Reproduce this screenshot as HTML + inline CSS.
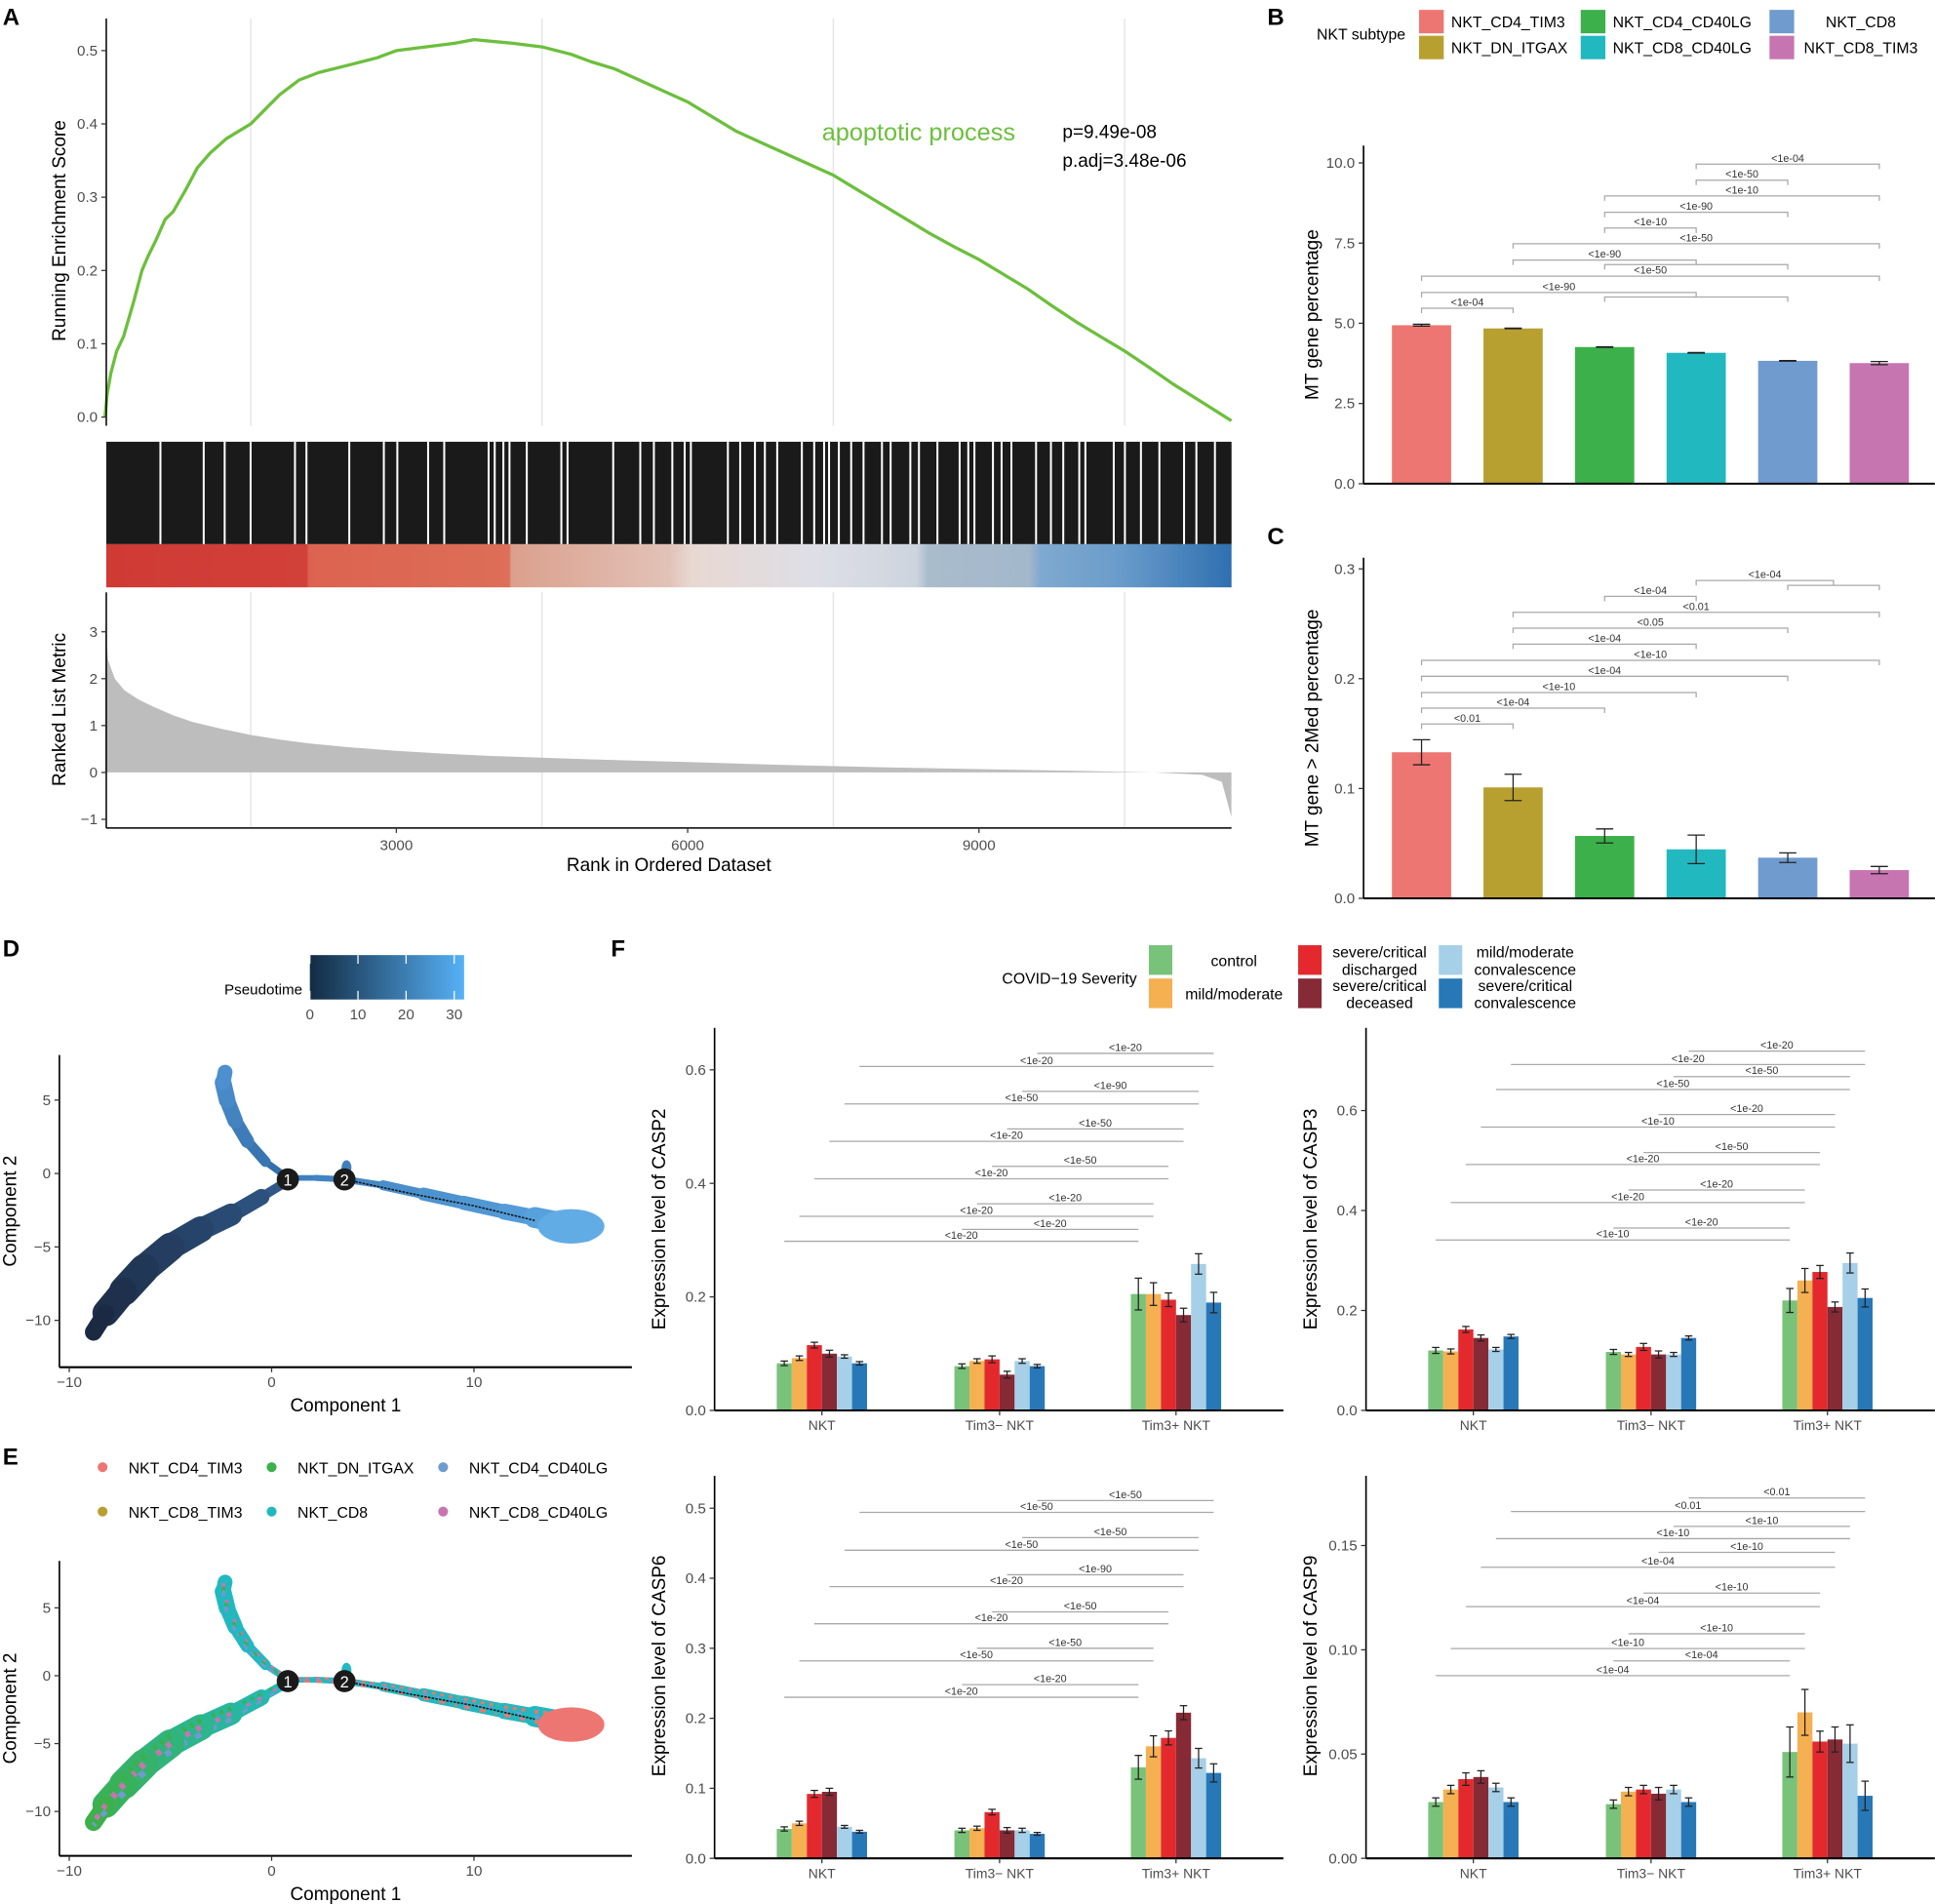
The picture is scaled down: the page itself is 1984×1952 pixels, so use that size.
<!DOCTYPE html>
<html><head><meta charset="utf-8"><style>
html,body{margin:0;padding:0;background:#fff;}
svg{display:block;font-family:"Liberation Sans",sans-serif;}
</style></head><body>
<svg id="fig" width="1984" height="1952" viewBox="0 0 1568 1543" xmlns="http://www.w3.org/2000/svg">
<defs>
<linearGradient id="rankband" x1="0" x2="1" y1="0" y2="0">
<stop offset="0" stop-color="#cf3a35"/><stop offset="0.178" stop-color="#d2403a"/>
<stop offset="0.18" stop-color="#dc6350"/><stop offset="0.358" stop-color="#dd6e58"/>
<stop offset="0.36" stop-color="#dba08d"/><stop offset="0.5" stop-color="#e2c2b7"/>
<stop offset="0.52" stop-color="#e8d8d2"/><stop offset="0.63" stop-color="#dedfe6"/>
<stop offset="0.72" stop-color="#cdd4de"/><stop offset="0.73" stop-color="#a9bccc"/>
<stop offset="0.82" stop-color="#a3b8cb"/><stop offset="0.83" stop-color="#7fa9cf"/>
<stop offset="0.9" stop-color="#6a9ccb"/><stop offset="1" stop-color="#2f70b0"/>
</linearGradient>
<linearGradient id="ptgrad" x1="0" x2="1" y1="0" y2="0">
<stop offset="0" stop-color="#132B43"/><stop offset="1" stop-color="#56B1F7"/>
</linearGradient>
</defs>
</svg>
<script>
// ---------- DATA ----------
const esRanks=[0,20,60,120,190,300,380,445,520,620,700,830,950,1080,1250,1500,1650,1800,2000,2200,2500,2800,3000,3300,3600,3800,4200,4500,4800,5000,5250,5500,5750,6000,6250,6500,6750,7000,7250,7500,7750,8000,8250,8500,8750,9000,9250,9500,9750,10000,10250,10500,10750,11000,11300,11600];
const esValues=[0,0.03,0.06,0.09,0.11,0.16,0.2,0.22,0.24,0.27,0.28,0.31,0.34,0.36,0.38,0.40,0.42,0.44,0.46,0.47,0.48,0.49,0.50,0.505,0.51,0.515,0.51,0.505,0.495,0.485,0.475,0.46,0.445,0.43,0.41,0.39,0.375,0.36,0.345,0.33,0.31,0.29,0.27,0.25,0.232,0.215,0.195,0.175,0.152,0.13,0.11,0.09,0.068,0.045,0.02,-0.005];
const metricRanks=[0,30,100,200,350,500,700,900,1200,1500,1800,2100,2500,3000,3500,4000,5000,6000,7000,8000,9000,10000,10800,11300,11500,11600];
const metricValues=[3.2,2.4,2.0,1.75,1.55,1.4,1.22,1.08,0.93,0.8,0.7,0.62,0.54,0.46,0.4,0.35,0.28,0.22,0.16,0.11,0.07,0.035,0.0,-0.05,-0.2,-0.95];
const gapRanks=[570,1016,1232,1499,1956,2074,2515,2871,3010,3327,3493,3950,4013,4102,4165,4343,4699,4763,5233,5512,5652,5842,5969,6033,6414,6541,6693,6795,6922,7176,7303,7405,7456,7557,7684,7811,8001,8090,8293,8382,8572,8801,8890,8953,9144,9233,9334,9588,9741,9868,10033,10096,10388,10503,10668,10858,11112,11239,11430];
const esTicks=[0,0.1,0.2,0.3,0.4,0.5];
const metricTicks=[-1,0,1,2,3];
const rankTicks=[3000,6000,9000];
const gridRanks=[1500,4500,7500,10500];

const subtypes=["NKT_CD4_TIM3","NKT_DN_ITGAX","NKT_CD4_CD40LG","NKT_CD8_CD40LG","NKT_CD8","NKT_CD8_TIM3"];
const subColors=["#ee7672","#b8a030","#3cb04a","#22b8bf","#6f9bcf","#c775b0"];
const bValues=[4.94,4.84,4.26,4.08,3.83,3.76];
const bErrors=[0.03,0.01,0.01,0.01,0.01,0.05];
const bTicks=[0,2.5,5,7.5,10];
const bTickLabels=["0.0","2.5","5.0","7.5","10.0"];
const bBrFrom=[4,4,3,3,3,2,2,3,1,1,3,1];
const bBrTo=[6,5,6,5,4,6,4,5,6,4,5,2];
const bBrY=[9.96,9.46,8.97,8.46,7.97,7.48,6.97,6.83,6.47,5.96,5.82,5.47];
const bBrLab=["<1e-04","<1e-50","<1e-10","<1e-90","<1e-10","<1e-50","<1e-90","","<1e-50","<1e-90","","<1e-04"];

const cValues=[0.133,0.101,0.0568,0.0446,0.037,0.0257];
const cErrors=[0.0114,0.012,0.0064,0.013,0.0044,0.0033];
const cTicks=[0,0.1,0.2,0.3];
const cTickLabels=["0.0","0.1","0.2","0.3"];
const cBrFrom=[4,5,3,2,2,2,1,1,1,1,1];
const cBrTo=[5.5,6,4,6,5,4,6,5,4,3,2];
const cBrY=[0.2894,0.285,0.275,0.2604,0.246,0.2315,0.2167,0.2022,0.1874,0.1732,0.1587];
const cBrLab=["<1e-04","","<1e-04","<0.01","<0.05","<1e-04","<1e-10","<1e-04","<1e-10","<1e-04","<0.01"];

const groups=["NKT","Tim3\u2212 NKT","Tim3+ NKT"];
const sevColors=["#78c279","#f5b052","#e3292e","#862a36","#a6cfe8","#2878b8"];
const casp2Values=[[0.083,0.092,0.115,0.1,0.095,0.083],[0.078,0.087,0.09,0.063,0.087,0.078],[0.205,0.205,0.195,0.168,0.258,0.19]];
const casp2Errors=[[0.004,0.004,0.005,0.006,0.003,0.003],[0.004,0.004,0.006,0.006,0.004,0.003],[0.028,0.02,0.012,0.012,0.018,0.018]];
const casp2BrY=[0.298,0.319,0.342,0.364,0.408,0.430,0.474,0.496,0.540,0.562,0.606,0.629];
const casp2BrLab=["<1e-20","<1e-20","<1e-20","<1e-20","<1e-20","<1e-50","<1e-20","<1e-50","<1e-50","<1e-90","<1e-20","<1e-20"];
const casp3Values=[[0.12,0.118,0.162,0.145,0.122,0.148],[0.117,0.112,0.127,0.112,0.112,0.145],[0.22,0.26,0.277,0.207,0.295,0.225]];
const casp3Errors=[[0.006,0.005,0.006,0.006,0.004,0.004],[0.005,0.004,0.007,0.007,0.004,0.004],[0.024,0.024,0.013,0.01,0.02,0.018]];
const casp3BrY=[0.341,0.365,0.416,0.441,0.492,0.516,0.567,0.592,0.642,0.668,0.692,0.719];
const casp3BrLab=["<1e-10","<1e-20","<1e-20","<1e-20","<1e-20","<1e-50","<1e-10","<1e-20","<1e-50","<1e-50","<1e-20","<1e-20"];
const casp6Values=[[0.042,0.05,0.092,0.095,0.045,0.038],[0.04,0.043,0.066,0.04,0.04,0.035],[0.13,0.16,0.172,0.208,0.143,0.122]];
const casp6Errors=[[0.003,0.003,0.005,0.005,0.002,0.002],[0.003,0.003,0.004,0.004,0.003,0.002],[0.017,0.015,0.01,0.01,0.014,0.013]];
const casp6BrY=[0.23,0.248,0.282,0.30,0.335,0.352,0.388,0.405,0.44,0.458,0.494,0.511];
const casp6BrLab=["<1e-20","<1e-20","<1e-50","<1e-50","<1e-20","<1e-50","<1e-20","<1e-90","<1e-50","<1e-50","<1e-50","<1e-50"];
const casp9Values=[[0.027,0.033,0.038,0.039,0.034,0.027],[0.026,0.032,0.033,0.031,0.033,0.027],[0.051,0.07,0.056,0.057,0.055,0.03]];
const casp9Errors=[[0.002,0.002,0.003,0.003,0.002,0.002],[0.002,0.002,0.002,0.003,0.002,0.002],[0.012,0.011,0.005,0.006,0.009,0.007]];
const casp9BrY=[0.0876,0.0947,0.1006,0.1077,0.1207,0.1272,0.1396,0.1467,0.1533,0.1592,0.1663,0.1728];
const casp9BrLab=["<1e-04","<1e-04","<1e-10","<1e-10","<1e-04","<1e-10","<1e-04","<1e-10","<1e-10","<1e-10","<0.01","<0.01"];

const branchTop=[[0.8,-0.3,4],[-0.3,0.8,7],[-1.2,2.2,10],[-1.8,3.6,12],[-2.2,5.0,13],[-2.4,6.2,14],[-2.3,6.9,10]];
const branchLow=[[0.8,-0.5,5],[-0.5,-1.6,10],[-2,-2.8,16],[-3.5,-3.8,20],[-5,-5.0,22],[-6.3,-6.5,24],[-7.3,-8,24],[-8.2,-9.5,19],[-8.8,-10.8,9]];
const branchRight=[[0.8,-0.3,4],[2.2,-0.3,5],[3.6,-0.4,5],[5.5,-0.8,6],[7.5,-1.4,10],[9.5,-2.0,11],[11.5,-2.6,12],[13,-3.0,14],[14.5,-3.4,20],[15.5,-3.9,16]];
const trajLine=[[3.6,-0.4],[7,-1.4],[10,-2.2],[13,-3.2]];
const compTicksX=[-10,0,10];
const compTicksY=[-10,-5,0,5];
const pseudoTicks=[0,10,20,30];

// ---------- HELPERS ----------
const NS="http://www.w3.org/2000/svg";
const svg=document.getElementById('fig');
function mk(tag,attrs,parent,txt){const e=document.createElementNS(NS,tag);for(const k in attrs)e.setAttribute(k,attrs[k]);if(txt!==undefined)e.textContent=txt;(parent||svg).appendChild(e);return e;}
function grp(name){const g=mk('g',{});return g;}
function txt(g,x,y,s,size,anchor,fill,extra){const t=mk('text',Object.assign({x:x,y:y,'font-size':size,'text-anchor':anchor||'start',fill:fill||'#000'},extra||{}),g,s);return t;}
function line(g,x1,y1,x2,y2,st,w){return mk('line',{x1:x1,y1:y1,x2:x2,y2:y2,stroke:st||'#000','stroke-width':w||1},g);}
function vtitle(g,x,y,s,size){return txt(g,x,y,s,size||15,'middle','#000',{transform:'rotate(-90 '+x+' '+y+')'});}
function lerpCol(a,b,t){const pa=[1,3,5].map(i=>parseInt(a.substr(i,2),16)),pb=[1,3,5].map(i=>parseInt(b.substr(i,2),16));return 'rgb('+pa.map((v,i)=>Math.round(v+(pb[i]-v)*t)).join(',')+')';}

// ---------- PANEL A ----------
(function(){
const g=grp('panel-a-gsea');
txt(g,2,20,'A',19,'start','#000',{'font-weight':'bold'});
const X=r=>85+r*0.0787, YE=v=>338-v*594, YM=v=>626-v*38;
gridRanks.forEach(r=>{line(g,X(r),15,X(r),345,'#e6e6e6',1.2);line(g,X(r),480,X(r),671,'#e6e6e6',1.2);});
let d=esRanks.map((r,i)=>(i?'L':'M')+X(r).toFixed(1)+','+YE(esValues[i]).toFixed(1)).join(' ');
const p=mk('path',{d:d,fill:'none',stroke:'#6cbf3c','stroke-width':2.6,'stroke-linejoin':'round'},g);

line(g,86,15,86,345,'#000',1.2);
esTicks.forEach(v=>{line(g,82,YE(v),86,YE(v),'#333',1);txt(g,79,YE(v)+4,v.toFixed(1),12,'end','#4d4d4d');});
vtitle(g,53,187,'Running Enrichment Score',15);
txt(g,666,114,'apoptotic process',20,'start','#6cbf3c');
txt(g,861,112,'p=9.49e-08',15);txt(g,861,135,'p.adj=3.48e-06',15);
const bc=mk('rect',{x:86,y:358,width:912,height:83,fill:'#1a1a1a'},g);

gapRanks.forEach(r=>{line(g,X(r),358,X(r),441,'#fff',1.6);});
const band=mk('rect',{x:86,y:441,width:912,height:35,fill:'url(#rankband)'},g);

let dm='M'+X(0)+','+YM(0)+' '+metricRanks.map((r,i)=>'L'+X(r).toFixed(1)+','+YM(metricValues[i]).toFixed(1)).join(' ')+' L'+X(11600)+','+YM(0)+' Z';
const pm=mk('path',{d:dm,fill:'#bdbdbd',stroke:'none'},g);

line(g,86,480,86,671,'#000',1.2);line(g,86,671,998,671,'#000',1.2);
metricTicks.forEach(v=>{line(g,82,YM(v),86,YM(v),'#333',1);txt(g,79,YM(v)+4,v<0?'\u22121':String(v),12,'end','#4d4d4d');});
rankTicks.forEach(r=>{line(g,X(r),671,X(r),675,'#333',1);txt(g,X(r),689,String(r),12,'middle','#4d4d4d');});
vtitle(g,53,575,'Ranked List Metric',15);
txt(g,542,706,'Rank in Ordered Dataset',15,'middle');
})();

// ---------- BAR PANELS B & C ----------
function subtypeBars(name,base,scale,top,vals,errs,ticks,tlabs,bf,bt,by,bl,title,titleY,tickH){
const g=grp(name);
const cx=i=>1152+(i-1)*74.2;
vals.forEach((v,i)=>{const r=mk('rect',{x:cx(i+1)-24,y:base-v*scale,width:48,height:v*scale,fill:subColors[i]},g);

const e=errs[i];line(g,cx(i+1),base-(v+e)*scale,cx(i+1),base-(v-e)*scale,'#222',1);
line(g,cx(i+1)-7,base-(v+e)*scale,cx(i+1)+7,base-(v+e)*scale,'#222',1);line(g,cx(i+1)-7,base-(v-e)*scale,cx(i+1)+7,base-(v-e)*scale,'#222',1);});
by.forEach((y,k)=>{const yy=base-y*scale;const x1=cx(bf[k]),x2=cx(bt[k]);
const pth=mk('path',{d:'M'+x1+','+(yy+tickH)+' L'+x1+','+yy+' L'+x2+','+yy+' L'+x2+','+(yy+tickH),fill:'none',stroke:'#a8a8a8','stroke-width':1},g);

if(bl[k])txt(g,(x1+x2)/2,yy-2,bl[k],8.5,'middle','#333');});
line(g,1105,top,1105,base,'#000',1.3);line(g,1105,base,1568,base,'#000',1.6);
ticks.forEach((v,i)=>{line(g,1101,base-v*scale,1105,base-v*scale,'#333',1);txt(g,1098,base-v*scale+4,tlabs[i],12,'end','#4d4d4d');});
vtitle(g,1068,titleY,title,15);
return g;}
const gB=subtypeBars('panel-b-mt-percentage',392,26,118,bValues,bErrors,bTicks,bTickLabels,bBrFrom,bBrTo,bBrY,bBrLab,'MT gene percentage',255,4);
txt(gB,1027,20,'B',19,'start','#000',{'font-weight':'bold'});
const gC=subtypeBars('panel-c-mt-2med',728,890,452,cValues,cErrors,cTicks,cTickLabels,cBrFrom,cBrTo,cBrY,cBrLab,'MT gene > 2Med percentage',590,4);
txt(gC,1027,441,'C',19,'start','#000',{'font-weight':'bold'});
(function(){const g=grp('legend-nkt-subtype');
txt(g,1067,32,'NKT subtype',12.5);
const pos=[[1150,8],[1150,29],[1281,8],[1281,29],[1434,8],[1434,29]];
const tx=[[1176,'start'],[1176,'start'],[1307,'start'],[1307,'start'],[1508,'middle'],[1508,'middle']];
subtypes.forEach((s,i)=>{const r=mk('rect',{x:pos[i][0],y:pos[i][1],width:20,height:19,fill:subColors[i]},g);

txt(g,tx[i][0],pos[i][1]+14,s,12.5,tx[i][1]);});
})();

// ---------- PANEL F ----------
function caspPanel(name,ox,base,scale,top,vals,errs,ticks,tlabs,brY,brLab,title,titleY){
const g=grp(name);
const gc=[666,810,953].map(v=>v+ox);
const bx=(gi,j)=>gc[gi]+(j-2.5)*12.2;
vals.forEach((gv,gi)=>gv.forEach((v,j)=>{const r=mk('rect',{x:bx(gi,j)-6.1,y:base-v*scale,width:12.2,height:v*scale,fill:sevColors[j]},g);

const e=errs[gi][j],xc=bx(gi,j);line(g,xc,base-(v+e)*scale,xc,base-(v-e)*scale,'#222',1);
line(g,xc-3,base-(v+e)*scale,xc+3,base-(v+e)*scale,'#222',1);line(g,xc-3,base-(v-e)*scale,xc+3,base-(v-e)*scale,'#222',1);}));
brY.forEach((y,k)=>{const kk=Math.floor(k/2);const isShort=k%2===1;
const x1=bx(isShort?1:0,kk),x2=bx(2,kk),yy=base-y*scale;
const l=line(g,x1,yy,x2,yy,'#a8a8a8',1);
txt(g,(x1+x2)/2,yy-2,brLab[k],8.5,'middle','#333');});
line(g,ox+579,top,ox+579,base,'#000',1.3);line(g,ox+579,base,ox+1040,base,'#000',1.6);
ticks.forEach((v,i)=>{line(g,ox+575,base-v*scale,ox+579,base-v*scale,'#333',1);txt(g,ox+572,base-v*scale+4,tlabs[i],12,'end','#4d4d4d');});
groups.forEach((s,i)=>{line(g,gc[i],base,gc[i],base+4,'#333',1);txt(g,gc[i],base+16,s,11,'middle','#4d4d4d');});
vtitle(g,ox+539,titleY,title,15);
return g;}
const gF2=caspPanel('panel-f-casp2',0,1143,460,833,casp2Values,casp2Errors,[0,0.2,0.4,0.6],["0.0","0.2","0.4","0.6"],casp2BrY,casp2BrLab,'Expression level of CASP2',988);
const gF3=caspPanel('panel-f-casp3',528,1143,405,833,casp3Values,casp3Errors,[0,0.2,0.4,0.6],["0.0","0.2","0.4","0.6"],casp3BrY,casp3BrLab,'Expression level of CASP3',988);
const gF6=caspPanel('panel-f-casp6',0,1506,567.5,1196,casp6Values,casp6Errors,[0,0.1,0.2,0.3,0.4,0.5],["0.0","0.1","0.2","0.3","0.4","0.5"],casp6BrY,casp6BrLab,'Expression level of CASP6',1350);
const gF9=caspPanel('panel-f-casp9',528,1506,1690,1196,casp9Values,casp9Errors,[0,0.05,0.1,0.15],["0.00","0.05","0.10","0.15"],casp9BrY,casp9BrLab,'Expression level of CASP9',1350);
txt(gF2,495,775,'F',19,'start','#000',{'font-weight':'bold'});
(function(){const g=grp('legend-covid-severity');
txt(g,812,797,'COVID\u221219 Severity',12.5);
const sw=[[931,766],[931,793],[1052,766],[1052,793],[1166,766],[1166,793]];
sevColors.forEach((c,i)=>{const r=mk('rect',{x:sw[i][0],y:sw[i][1],width:19,height:24,fill:c},g);});
txt(g,1000,783,'control',12.5,'middle');txt(g,1000,810,'mild/moderate',12.5,'middle');
txt(g,1118,776,'severe/critical',12.5,'middle');txt(g,1118,790,'discharged',12.5,'middle');
txt(g,1118,803,'severe/critical',12.5,'middle');txt(g,1118,817,'deceased',12.5,'middle');
txt(g,1236,776,'mild/moderate',12.5,'middle');txt(g,1236,790,'convalescence',12.5,'middle');
txt(g,1236,803,'severe/critical',12.5,'middle');txt(g,1236,817,'convalescence',12.5,'middle');
})();

// ---------- PANELS D & E ----------
function trajPanel(name,y0,ys,top,bottom,colors,mix){
const g=grp(name);
const X=v=>220+v*16.4, Y=v=>y0-v*ys;
function branch(arr,c0,c1,nm,mixCols){
for(let i=0;i<arr.length-1;i++){const a=arr[i],b=arr[i+1];
const col=lerpCol(c0,c1,i/(arr.length-2));
const l=line(g,X(a[0]),Y(a[1]),X(b[0]),Y(b[1]),col,(a[2]+b[2])/2);l.setAttribute('stroke-linecap','round');

if(mixCols){mixCols.forEach((mc,m)=>{const off=(m-1)*0.28;const l2=line(g,X(a[0]),Y(a[1])+off*a[2],X(b[0]),Y(b[1])+off*b[2],mc,Math.max(2,a[2]*0.22));l2.setAttribute('stroke-dasharray',(3+m)+' '+(4+2*m));});}
}}
branch(branchLow,colors[0],colors[1],'branch-lower',mix?mix[0]:null);
branch(branchTop,colors[2],colors[3],'branch-top',mix?mix[1]:null);
branch(branchRight,colors[4],colors[5],'branch-right',mix?mix[2]:null);
const e=branchRight[branchRight.length-2];
const blob=mk('ellipse',{cx:X(e[0]+0.3),cy:Y(e[1]-0.2),rx:27,ry:14,fill:colors[6]},g);
mk('ellipse',{cx:X(3.7),cy:Y(0.4),rx:4,ry:6,fill:colors[4]},g);
const tl=mk('polyline',{points:trajLine.map(p=>X(p[0])+','+Y(p[1])).join(' '),fill:'none',stroke:'#111','stroke-width':1.2,'stroke-dasharray':'2 1'},g);

[[0.8,-0.4,'1'],[3.6,-0.4,'2']].forEach(n=>{const c=mk('circle',{cx:X(n[0]),cy:Y(n[1]),r:9,fill:'#1a1a1a'},g);txt(g,X(n[0]),Y(n[1])+5,n[2],13,'middle','#fff');});
line(g,48,top,48,bottom,'#000',1.3);line(g,48,bottom,512,bottom,'#000',1.6);
compTicksX.forEach(v=>{line(g,X(v),bottom,X(v),bottom+4,'#333',1);txt(g,X(v),bottom+16,v<0?'\u2212'+(-v):String(v),12,'middle','#4d4d4d');});
compTicksY.forEach(v=>{line(g,44,Y(v),48,Y(v),'#333',1);txt(g,41,Y(v)+4,v<0?'\u2212'+(-v):String(v),12,'end','#4d4d4d');});
txt(g,280,bottom+36,'Component 1',15,'middle');
vtitle(g,13,(top+bottom)/2,'Component 2',15);
return g;}
const gD=trajPanel('panel-d-pseudotime',951,11.9,855,1108,['#2f5787','#1b2a42','#3470aa','#4d8fcf','#3f7fbd','#5aa6e2','#62ace6'],null);
txt(gD,2,775,'D',19,'start','#000',{'font-weight':'bold'});
(function(){const g=grp('legend-pseudotime');
txt(g,245,806,'Pseudotime',12,'end');
const r=mk('rect',{x:251,y:774,width:125,height:36,fill:'url(#ptgrad)'},g);
pseudoTicks.forEach(v=>{const x=251+v*3.9;line(g,x,774,x,781,'#fff',1);line(g,x,803,x,810,'#fff',1);txt(g,x,826,String(v),12,'middle','#4d4d4d');});
})();
const gE=trajPanel('panel-e-subtype',1358,11,1265,1504,['#22b8bf','#3cb04a','#22b8bf','#22b8bf','#22b8bf','#22b8bf','#ee7672'],[['#3cb04a','#c775b0','#6f9bcf'],['#c775b0','#3cb04a','#6f9bcf'],['#ee7672','#6f9bcf','#ee7672']]);
txt(gE,2,1187,'E',19,'start','#000',{'font-weight':'bold'});
(function(){const g=grp('legend-e-subtype');
const names=["NKT_CD4_TIM3","NKT_DN_ITGAX","NKT_CD4_CD40LG","NKT_CD8_TIM3","NKT_CD8","NKT_CD8_CD40LG"];
const cols=["#ee7672","#3cb04a","#6f9bcf","#b8a030","#22b8bf","#c775b0"];
const px=[83,220,359],tx=[104,241,380];
names.forEach((n,i)=>{const row=Math.floor(i/3),col=i%3,y=1189+row*36;
const c=mk('circle',{cx:px[col],cy:y,r:4,fill:cols[i]},g);
txt(g,tx[col],y+5,n,12.5);});
})();
</script>
</body></html>
